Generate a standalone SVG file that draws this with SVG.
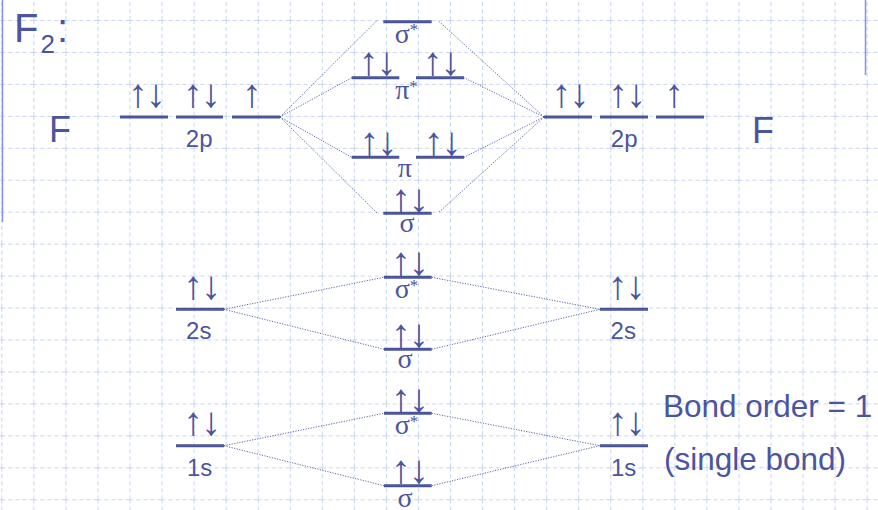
<svg xmlns="http://www.w3.org/2000/svg" width="878" height="510" viewBox="0 0 878 510">
<style>
.lv{stroke:#4B559E;stroke-width:3;fill:none}
.t{font-family:"Liberation Sans",Arial,sans-serif;fill:#4B559E}
.g{font-family:"Liberation Serif","Times New Roman",serif;fill:#4B559E;font-size:28px;text-anchor:middle}
.s{font-size:17px}
.e{font-family:"Liberation Sans",Arial,sans-serif;fill:#4B559E;font-size:40px;text-anchor:middle;letter-spacing:-2px}
.lb{font-size:24px;text-anchor:middle}
.c{stroke:#4B559E;stroke-width:0.9;stroke-dasharray:1.2 1.4;fill:none}
.grid{stroke:#C9D5F2;stroke-width:1;stroke-dasharray:4 3}
</style>
<defs>
<pattern id="gp" patternUnits="userSpaceOnUse" x="1.3" y="20" width="32.05" height="31.95">
<line class="grid" x1="0.5" y1="0" x2="0.5" y2="31.95"/>
<line class="grid" x1="0" y1="0.5" x2="32.05" y2="0.5"/>
</pattern>
</defs>
<rect width="878" height="510" fill="#fff"/>
<rect width="878" height="510" fill="url(#gp)"/>
<line x1="2.5" y1="0" x2="2.5" y2="222" stroke="#8393E3" stroke-width="1.5"/>
<line x1="865.5" y1="0" x2="865.5" y2="75" stroke="#8393E3" stroke-width="1.5"/>

<g id="title">
<text class="t" x="14" y="42" font-size="40">F</text>
<text class="t" x="40.5" y="53" font-size="26">2</text>
<text class="t" x="57" y="42" font-size="40">:</text>
</g>
<g id="F-left"><text class="t" x="49" y="142" font-size="36">F</text></g>
<g id="F-right"><text class="t" x="752" y="142.5" font-size="36">F</text></g>

<g id="connectors">
<path class="c" d="M280,117 L377,20.5 M280,117 L351.7,77.7 M280,117 L351.7,157.3 M280,117 L377,213"/>
<path class="c" d="M544,117 L438,20.5 M544,117 L464,77.7 M544,117 L464,157.3 M544,117 L438,213"/>
<path class="c" d="M224,309.3 L384,277.3 M224,309.3 L384,349.3 M431.7,277.3 L600,309.3 M431.7,349.3 L600,309.3"/>
<path class="c" d="M224,445.7 L384,413.3 M224,445.7 L384,485.7 M431.7,413.3 L600,445.7 M431.7,485.7 L600,445.7"/>
</g>

<g id="F-left-2p">
<line class="lv" x1="120" y1="117" x2="168" y2="117"/>
<line class="lv" x1="176" y1="117" x2="223" y2="117"/>
<line class="lv" x1="232" y1="117" x2="280" y2="117"/>
<text class="e" x="146" y="107">↑↓</text>
<text class="e" x="201" y="107">↑↓</text>
<text class="e" x="251" y="107">↑</text>
<text class="t lb" x="199.2" y="146.7">2p</text>
</g>
<g id="F-right-2p">
<line class="lv" x1="544" y1="117" x2="592" y2="117"/>
<line class="lv" x1="600" y1="117" x2="648" y2="117"/>
<line class="lv" x1="656" y1="117" x2="704" y2="117"/>
<text class="e" x="569.5" y="107">↑↓</text>
<text class="e" x="626.2" y="107">↑↓</text>
<text class="e" x="673.3" y="107">↑</text>
<text class="t lb" x="624.2" y="146.7">2p</text>
</g>

<g id="sigma-star-2p">
<line class="lv" x1="383.3" y1="21.7" x2="431.7" y2="21.7"/>
<text class="g" x="406.5" y="42.7">σ<tspan class="s" dy="-7.5">*</tspan></text>
</g>
<g id="pi-star-2p">
<line class="lv" x1="351.7" y1="77.7" x2="399.3" y2="77.7"/>
<line class="lv" x1="416" y1="77.7" x2="464" y2="77.7"/>
<text class="e" x="376.7" y="75">↑↓</text>
<text class="e" x="440.8" y="75">↑↓</text>
<text class="g" x="406.5" y="99.3">π<tspan class="s" dy="-7.5">*</tspan></text>
</g>
<g id="pi-2p">
<line class="lv" x1="351.7" y1="157.3" x2="399.3" y2="157.3"/>
<line class="lv" x1="416" y1="157.3" x2="464" y2="157.3"/>
<text class="e" x="377.5" y="155">↑↓</text>
<text class="e" x="441.8" y="155">↑↓</text>
<text class="g" x="404.7" y="176.7">π</text>
</g>
<g id="sigma-2p">
<line class="lv" x1="383.3" y1="213.3" x2="431.7" y2="213.3"/>
<text class="e" x="409" y="211.5">↑↓</text>
<text class="g" x="407" y="231.7">σ</text>
</g>

<g id="F-left-2s">
<line class="lv" x1="176" y1="309.3" x2="224" y2="309.3"/>
<text class="e" x="201.2" y="299">↑↓</text>
<text class="t lb" x="198.8" y="339.3">2s</text>
</g>
<g id="F-right-2s">
<line class="lv" x1="600" y1="309.3" x2="648" y2="309.3"/>
<text class="e" x="625.7" y="299">↑↓</text>
<text class="t lb" x="623.3" y="339.3">2s</text>
</g>
<g id="sigma-star-2s">
<line class="lv" x1="384" y1="277.3" x2="431.7" y2="277.3"/>
<text class="e" x="409" y="275">↑↓</text>
<text class="g" x="406.5" y="298.3">σ<tspan class="s" dy="-7.5">*</tspan></text>
</g>
<g id="sigma-2s">
<line class="lv" x1="384" y1="349.3" x2="431.7" y2="349.3"/>
<text class="e" x="409" y="346.7">↑↓</text>
<text class="g" x="405" y="368.3">σ</text>
</g>

<g id="F-left-1s">
<line class="lv" x1="176" y1="445.7" x2="224" y2="445.7"/>
<text class="e" x="201.2" y="435">↑↓</text>
<text class="t lb" x="199.7" y="476">1s</text>
</g>
<g id="F-right-1s">
<line class="lv" x1="600" y1="445.7" x2="648" y2="445.7"/>
<text class="e" x="625.7" y="435">↑↓</text>
<text class="t lb" x="623.7" y="476">1s</text>
</g>
<g id="sigma-star-1s">
<line class="lv" x1="384" y1="413.3" x2="431.7" y2="413.3"/>
<text class="e" x="409" y="411.7">↑↓</text>
<text class="g" x="406.5" y="434">σ<tspan class="s" dy="-7.5">*</tspan></text>
</g>
<g id="sigma-1s">
<line class="lv" x1="384" y1="485.7" x2="431.7" y2="485.7"/>
<text class="e" x="409" y="483.3">↑↓</text>
<text class="g" x="405" y="506.5">σ</text>
</g>

<g id="bond-order">
<text class="t" x="663" y="416.5" font-size="31.5">Bond order = 1</text>
<text class="t" x="664" y="470" font-size="31.5">(single bond)</text>
</g>
</svg>
